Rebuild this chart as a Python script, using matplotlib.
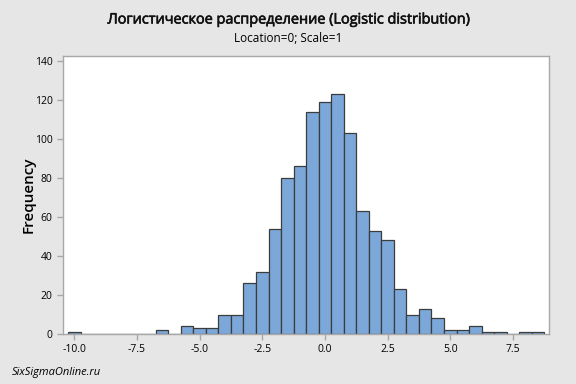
import matplotlib
matplotlib.use("Agg")
import matplotlib.pyplot as plt
import matplotlib.patheffects as pe
import numpy as np

bin_centers = [-10.0, -9.5, -9.0, -8.5, -8.0, -7.5, -7.0, -6.5, -6.0, -5.5, -5.0, -4.5,
               -4.0, -3.5, -3.0, -2.5, -2.0, -1.5, -1.0, -0.5, 0.0, 0.5, 1.0, 1.5,
               2.0, 2.5, 3.0, 3.5, 4.0, 4.5, 5.0, 5.5, 6.0, 6.5, 7.0, 7.5, 8.0, 8.5]
counts = [1, 0, 0, 0, 0, 0, 0, 2, 0, 4, 3, 3,
          10, 10, 26, 32, 54, 80, 86, 114, 119, 123, 103, 63,
          53, 48, 23, 10, 13, 8, 2, 2, 4, 1, 1, 0, 1, 1]
xticks = [-10.0, -7.5, -5.0, -2.5, 0.0, 2.5, 5.0, 7.5]
yticks = [0, 20, 40, 60, 80, 100, 120, 140]

plt.rcParams['font.family'] = ['Open Sans', 'DejaVu Sans']

fig = plt.figure(figsize=(5.76, 3.84), dpi=100, facecolor='#e6e6e6')
ax = fig.add_axes([63/576, 1-334/384, (549-63)/576, (334-56)/384])
ax.set_facecolor('white')

ax.bar(bin_centers, counts, width=0.5, color='#7ba7d9', edgecolor='#3c3c3c', linewidth=0.9)

ax.set_xlim(-10.45, 8.94)
ax.set_ylim(0, 142.6)
ax.set_xticks(xticks)
ax.set_xticklabels([f"{t:.1f}" for t in xticks])
ax.set_yticks(yticks)
for s in ax.spines.values():
    s.set_color('#a8a8a8')
    s.set_linewidth(1.0)
ax.tick_params(axis='both', colors='#a8a8a8', labelcolor='black', labelsize=7.5, length=4, width=1.0)
ax.set_ylabel('Frequency', fontsize=11, fontweight='semibold', labelpad=-1)

fig.text(0.5, 1-20/384, 'Логистическое распределение (Logistic distribution)', ha='center', va='center',
         fontsize=10.4, color='#111111',
         path_effects=[pe.withStroke(linewidth=0.45, foreground='#111111')])
fig.text(0.5, 1-39/384, 'Location=0; Scale=1', ha='center', va='center', fontsize=8.5)
fig.text(12/576, 1-372/384, 'SixSigmaOnline.ru', ha='left', va='center', fontsize=8, style='italic')

fig.savefig('out.png', dpi=100, facecolor=fig.get_facecolor())
